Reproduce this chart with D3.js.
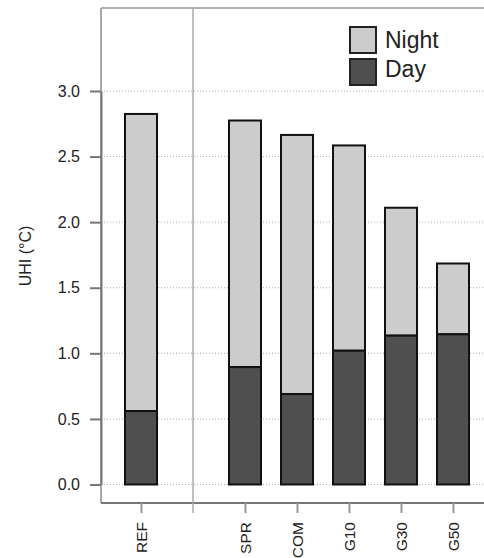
<!DOCTYPE html>
<html><head><meta charset="utf-8">
<script src="https://cdn.jsdelivr.net/npm/d3@7"></script>
<style>body{margin:0;background:#fff}svg{display:block;font-family:"Liberation Sans",Arial,sans-serif}</style>
</head><body><svg id="c" width="484" height="558"></svg>
<script>
const categories = ["REF", "SPR", "COM", "G10", "G30", "G50"];
const dayValues = [0.56, 0.895, 0.69, 1.02, 1.135, 1.145];
const totalValues = [2.825, 2.775, 2.665, 2.585, 2.11, 1.685];
const yTicks = [0, 0.5, 1.0, 1.5, 2.0, 2.5, 3.0];
const legendLabels = ["Night", "Day"];

const svg = d3.select("#c");
const L = 101, T = 8, B = 503, R = 484;
const slots = ["REF", "__sep__", "SPR", "COM", "G10", "G30", "G50"];
const x = d3.scalePoint().domain(slots).range([141, 453]);
const y = d3.scaleLinear().domain([0, 3]).range([484.5, 91]);
const barW = 32;
const nightCol = "#cccccc", dayCol = "#4f4f4f";

// grid
svg.append("g").selectAll("line").data(yTicks).join("line")
  .attr("x1", L).attr("x2", R).attr("y1", d => y(d)).attr("y2", d => y(d))
  .attr("stroke", "#aaa").attr("stroke-width", 1).attr("stroke-dasharray", "1,2");

// frame
svg.append("line").attr("x1", L).attr("x2", R).attr("y1", T).attr("y2", T).attr("stroke", "#b0b0b0").attr("stroke-width", 2);
svg.append("line").attr("x1", L).attr("x2", L).attr("y1", T).attr("y2", B).attr("stroke", "#a8a8a8").attr("stroke-width", 2);
svg.append("line").attr("x1", L).attr("x2", R).attr("y1", B).attr("y2", B).attr("stroke", "#777").attr("stroke-width", 2);

// separator
svg.append("line").attr("x1", x("__sep__")).attr("x2", x("__sep__")).attr("y1", T).attr("y2", 513)
  .attr("stroke", "#aaa").attr("stroke-width", 1.5);

// y axis
const ya = svg.append("g").attr("transform", `translate(${L},0)`)
  .call(d3.axisLeft(y).tickValues(yTicks).tickFormat(d3.format(".1f")).tickSize(11).tickPadding(10).tickSizeOuter(0));
ya.select(".domain").attr("stroke", "#777").attr("stroke-width", 2);
ya.selectAll(".tick line").attr("stroke", "#777").attr("stroke-width", 2);
ya.selectAll(".tick text").attr("font-size", 16).attr("fill", "#222").attr("font-family", "Liberation Sans, Arial, sans-serif");

// x axis
const xa = svg.append("g").attr("transform", `translate(0,${B})`)
  .call(d3.axisBottom(x).tickValues(categories).tickSize(10).tickSizeOuter(0));
xa.select(".domain").remove();
xa.selectAll(".tick line").attr("stroke", "#999").attr("stroke-width", 2);
xa.selectAll(".tick text").attr("font-size", 15.5).attr("fill", "#222")
  .attr("font-family", "Liberation Sans, Arial, sans-serif")
  .attr("text-anchor", "end").attr("dy", "0.35em")
  .attr("transform", "translate(0,19) rotate(-90)").attr("x", 0).attr("y", 0);

// bars
const data = categories.map((c, i) => ({c, day: dayValues[i], total: totalValues[i]}));
const g = svg.append("g");
g.selectAll("rect.night").data(data).join("rect").attr("class", "night")
  .attr("x", d => x(d.c) - barW / 2).attr("width", barW)
  .attr("y", d => y(d.total)).attr("height", d => y(d.day) - y(d.total))
  .attr("fill", nightCol).attr("stroke", "#111").attr("stroke-width", 2);
g.selectAll("rect.day").data(data).join("rect").attr("class", "day")
  .attr("x", d => x(d.c) - barW / 2).attr("width", barW)
  .attr("y", d => y(d.day)).attr("height", d => y(0) - y(d.day))
  .attr("fill", dayCol).attr("stroke", "#111").attr("stroke-width", 2);

// y label
svg.append("text").attr("transform", "translate(31,256) rotate(-90)")
  .attr("text-anchor", "middle").attr("font-size", 16).attr("fill", "#222").text("UHI (°C)");

// legend
const lg = svg.append("g");
legendLabels.forEach((lab, i) => {
  lg.append("rect").attr("x", 350).attr("y", 27 + i * 32).attr("width", 26).attr("height", 26)
    .attr("fill", i === 0 ? nightCol : dayCol).attr("stroke", "#222").attr("stroke-width", 2);
  lg.append("text").attr("x", 385).attr("y", 48 + i * 29).attr("font-size", 23).attr("fill", "#222").text(lab);
});
</script></body></html>
